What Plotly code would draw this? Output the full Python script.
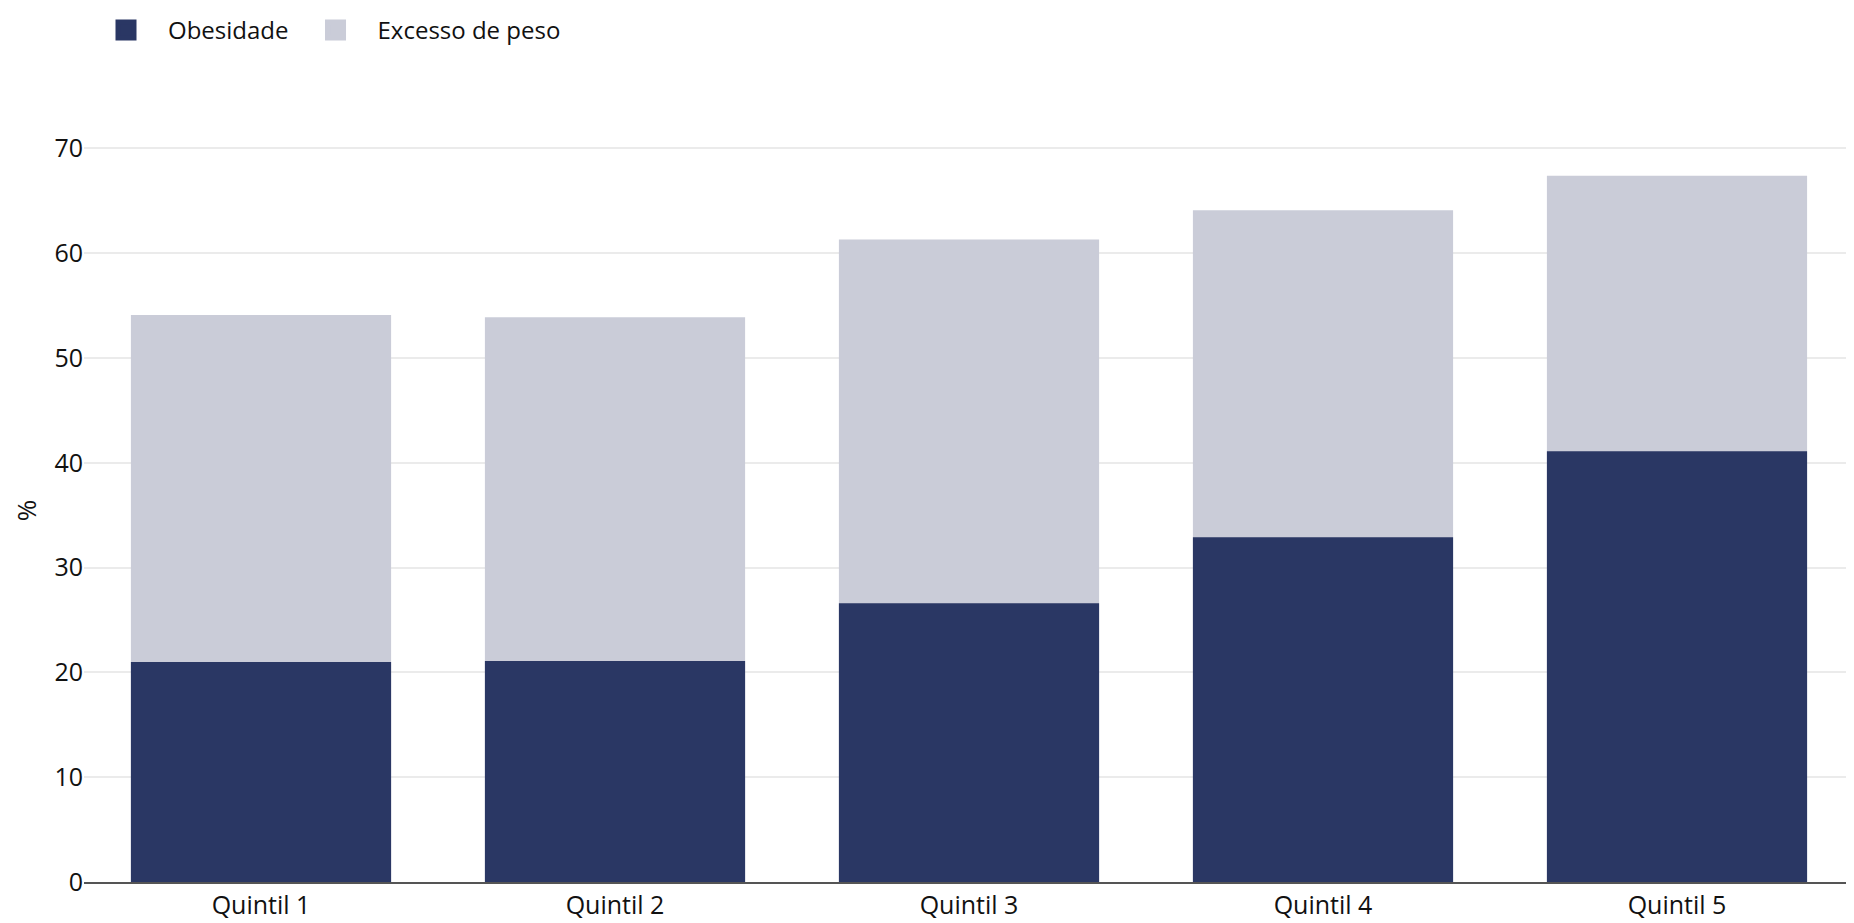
import plotly.graph_objects as go

categories = ["Quintil 1", "Quintil 2", "Quintil 3", "Quintil 4", "Quintil 5"]
obesidade = [21.0, 21.1, 26.6, 32.9, 41.1]
excesso_peso = [54.1, 53.9, 61.3, 64.1, 67.4]

COL_OB = "#2A3764"
COL_EX = "#CACCD8"
FONT = "Open Sans"

fig = go.Figure()
fig.add_trace(go.Bar(x=categories, y=excesso_peso, name="Excesso de peso",
                     marker=dict(color=COL_EX, line=dict(width=0)), showlegend=False))
fig.add_trace(go.Bar(x=categories, y=obesidade, name="Obesidade",
                     marker=dict(color=COL_OB, line=dict(width=0)), showlegend=False))
# legend entries
for name, col in [("Obesidade", COL_OB), ("Excesso de peso", COL_EX)]:
    fig.add_trace(go.Scatter(x=[None], y=[None], mode="markers", name=name,
                             marker=dict(symbol="square", size=16, color=col,
                                         line=dict(color=col, width=5))))

fig.update_layout(
    barmode="overlay",
    bargap=0.265,
    width=1846, height=915,
    margin=dict(l=76, r=0, t=131, b=41),
    paper_bgcolor="white", plot_bgcolor="white",
    font=dict(family=FONT, size=22, color="#111111"),
    legend=dict(orientation="h", x=0, xanchor="left", yref="container", y=1.0, yanchor="top",
                itemwidth=74, font=dict(size=24), itemsizing="trace"),
    xaxis=dict(showgrid=False, showline=True, linecolor="#555555", linewidth=2,
               ticks="", tickfont=dict(size=25), layer="below traces", automargin=False),
    yaxis=dict(range=[0, 70.9], dtick=10, showgrid=True, gridcolor="#EBEBEB", gridwidth=2,
               zeroline=False, ticks="", tickfont=dict(size=25), automargin=False,
               title=dict(text="%", font=dict(size=26), standoff=20)),
)

fig.write_html("out.html")
